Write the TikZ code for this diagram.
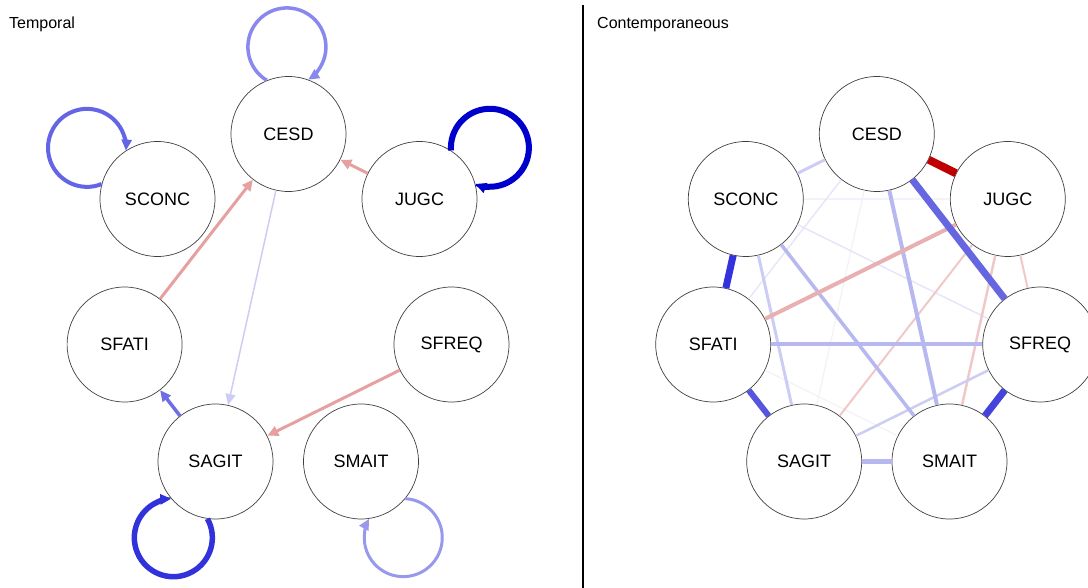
\documentclass[tikz,border=0pt]{standalone}
\usepackage{fontspec}
\setmainfont{Liberation Sans}
\usetikzlibrary{arrows.meta}

\definecolor{lpink}{RGB}{230,160,160}
\definecolor{lblue}{RGB}{204,204,245}
\definecolor{mblue}{RGB}{110,110,228}
\definecolor{loopa}{RGB}{136,136,238}
\definecolor{loopb}{RGB}{100,100,230}
\definecolor{loopc}{RGB}{0,0,204}
\definecolor{loopd}{RGB}{50,50,220}
\definecolor{loope}{RGB}{152,152,236}
\definecolor{deepred}{RGB}{192,0,0}
\definecolor{bluea}{RGB}{102,102,224}
\definecolor{blueb}{RGB}{51,51,221}
\definecolor{bluec}{RGB}{85,85,221}
\definecolor{blued}{RGB}{68,68,221}
\definecolor{bluee}{RGB}{184,184,240}
\definecolor{bluef}{RGB}{204,204,244}
\definecolor{blueg}{RGB}{230,230,250}
\definecolor{blueh}{RGB}{242,242,251}
\definecolor{pinka}{RGB}{232,176,176}
\definecolor{pinkb}{RGB}{240,200,200}
\definecolor{greyf}{RGB}{242,242,242}

\begin{document}
\begin{tikzpicture}[
			x=1pt, y=1pt,
			var/.style={circle, draw=black!75, line width=0.7pt, fill=white, minimum size=115pt, inner sep=0pt, font=\fontsize{18}{20}\selectfont},
			dir/.style={-{Triangle[length=11pt,width=10pt]}},
			title/.style={anchor=base west, inner sep=0pt, font=\fontsize{16}{18}\selectfont}
			]
			\clip (0,0) rectangle (1088,-588);
			% Temporal
			\node[title] (ttitle) at (9,-29) {Temporal};
			\node[var] (tCESD) at (288.5,-134) {CESD};
			\node[var] (tSCONC) at (157.5,-199) {SCONC};
			\node[var] (tJUGC) at (419.5,-199) {JUGC};
			\node[var] (tSFATI) at (124.6,-344.5) {SFATI};
			\node[var] (tSFREQ) at (451.5,-344.5) {SFREQ};
			\node[var] (tSAGIT) at (215.5,-461.5) {SAGIT};
			\node[var] (tSMAIT) at (361,-461.5) {SMAIT};
			
			\draw[dir, lblue, line width=1.5pt] (tCESD) -- (tSAGIT);
			\draw[dir, lpink, line width=3pt] (tJUGC) -- (tCESD);
			\draw[dir, lpink, line width=3pt] (tSFATI) -- (tCESD);
			\draw[dir, lpink, line width=3pt] (tSFREQ) -- (tSAGIT);
			\draw[dir, mblue, line width=3.5pt] (tSAGIT) -- (tSFATI);
			\draw[dir, loopa, line width=3.5pt] (tCESD.112) arc[start angle=239, end angle=-57, radius=39];
			\draw[dir, loopb, line width=4pt] (tSCONC.165) arc[start angle=292, end angle=-4, radius=39];
			\draw[dir, loopc, line width=6pt] (tJUGC.57) arc[start angle=184, end angle=-112, radius=39];
			\draw[dir, loopd, line width=5.5pt] (tSAGIT.262) arc[start angle=29, end angle=-267, radius=39];
			\draw[dir, loope, line width=3pt] (tSMAIT.320) arc[start angle=87, end angle=-209, radius=39];
			
			\draw[line width=2pt] (583,-5) -- (583,-588);
			
			% Contemporaneous
			\node[title] (ctitle) at (597,-29) {Contemporaneous};
			\node[var] (cCESD) at (876.8,-134) {CESD};
			\node[var] (cSCONC) at (745.8,-199) {SCONC};
			\node[var] (cJUGC) at (1007.8,-199) {JUGC};
			\node[var] (cSFATI) at (713.2,-344.5) {SFATI};
			\node[var] (cSFREQ) at (1040.2,-344.5) {SFREQ};
			\node[var] (cSAGIT) at (804.2,-461.5) {SAGIT};
			\node[var] (cSMAIT) at (949.5,-461.5) {SMAIT};
			
			\draw[greyf, line width=1.2pt] (cCESD) -- (cSAGIT);
			\draw[greyf, line width=1.2pt] (cSFATI) -- (cSMAIT);
			\draw[blueh, line width=1.5pt] (cSCONC) -- (cJUGC);
			\draw[blueg, line width=1.5pt] (cCESD) -- (cSFATI);
			\draw[blueg, line width=1.5pt] (cSCONC) -- (cSFREQ);
			\draw[pinkb, line width=2pt] (cJUGC) -- (cSFREQ);
			\draw[pinkb, line width=2pt] (cJUGC) -- (cSAGIT);
			\draw[pinkb, line width=2.5pt] (cJUGC) -- (cSMAIT);
			\draw[bluef, line width=2.5pt] (cSFREQ) -- (cSAGIT);
			\draw[bluef, line width=3pt] (cCESD) -- (cSCONC);
			\draw[bluef, line width=3pt] (cSCONC) -- (cSAGIT);
			\draw[bluee, line width=3.5pt] (cSCONC) -- (cSMAIT);
			\draw[bluee, line width=4pt] (cCESD) -- (cSMAIT);
			\draw[bluee, line width=4pt] (cSFATI) -- (cSFREQ);
			\draw[pinka, line width=4pt] (cJUGC) -- (cSFATI);
			\draw[bluee, line width=5pt] (cSAGIT) -- (cSMAIT);
			\draw[bluec, line width=6pt] (cSFATI) -- (cSAGIT);
			\draw[bluea, line width=7pt] (cCESD) -- (cSFREQ);
			\draw[blueb, line width=7pt] (cSCONC) -- (cSFATI);
			\draw[blued, line width=7pt] (cSFREQ) -- (cSMAIT);
			\draw[deepred, line width=8pt] (cCESD) -- (cJUGC);
		\end{tikzpicture}
\end{document}
